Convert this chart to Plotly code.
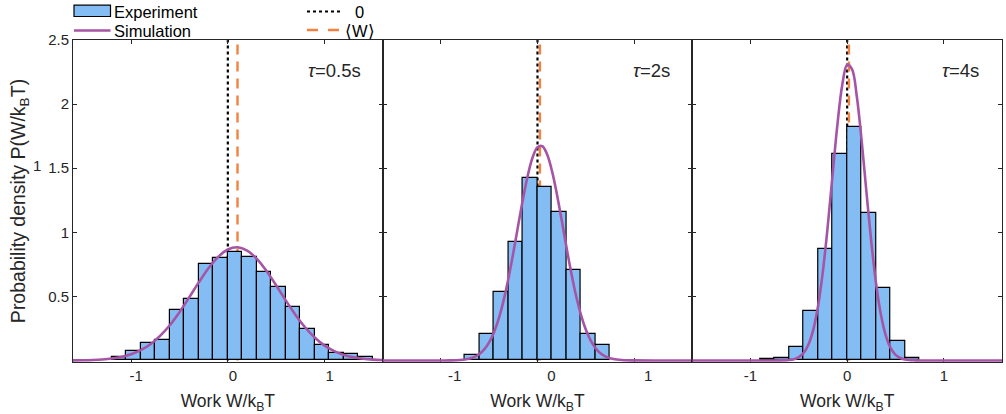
import plotly.graph_objects as go
from plotly.subplots import make_subplots

# ---------------- data ----------------
bin_width = 0.15

p1_bin_start = -1.2
p1_heights = [0.028, 0.075, 0.140, 0.158, 0.394, 0.478, 0.749, 0.797, 0.845,
              0.809, 0.690, 0.572, 0.417, 0.245, 0.117, 0.058, 0.054, 0.025]

p2_bin_start = -0.75
p2_heights = [0.041, 0.207, 0.536, 0.922, 1.420, 1.350, 1.156, 0.702, 0.207, 0.121]

p3_bin_start = -0.9
p3_heights = [0.008, 0.018, 0.103, 0.383, 0.866, 1.610, 1.825, 1.150, 0.562, 0.148, 0.020]

p1_sim_x = [-1.6, -1.5, -1.4, -1.3, -1.2, -1.1, -1.0, -0.9, -0.8, -0.7, -0.6, -0.5,
            -0.4, -0.3, -0.2, -0.1, 0.0, 0.1, 0.2, 0.3, 0.4, 0.5, 0.6, 0.7, 0.8,
            0.9, 1.0, 1.1, 1.2, 1.3, 1.4, 1.5, 1.6]
p1_sim_y = [0.0008, 0.0018, 0.0039, 0.0078, 0.0150, 0.0276, 0.0482, 0.0802, 0.127,
            0.192, 0.275, 0.377, 0.491, 0.609, 0.719, 0.808, 0.866, 0.883, 0.857,
            0.793, 0.698, 0.585, 0.467, 0.355, 0.257, 0.177, 0.116, 0.073, 0.043,
            0.0245, 0.0132, 0.0068, 0.0033]

p2_sim_x = [-1.6, -1.2, -1.0, -0.9, -0.8, -0.75, -0.7, -0.65, -0.6, -0.55, -0.5,
            -0.45, -0.4, -0.35, -0.3, -0.25, -0.2, -0.15, -0.1, -0.05, 0.0, 0.05,
            0.1, 0.15, 0.2, 0.25, 0.3, 0.35, 0.4, 0.45, 0.5, 0.55, 0.6, 0.65, 0.7,
            0.75, 0.8, 0.9, 1.0, 1.2, 1.6]
p2_sim_y = [0.0, 0.0, 0.0001, 0.0008, 0.0038, 0.0078, 0.0152, 0.0283, 0.0505,
            0.0861, 0.141, 0.219, 0.328, 0.469, 0.641, 0.840, 1.052, 1.260, 1.445,
            1.585, 1.664, 1.671, 1.606, 1.477, 1.299, 1.094, 0.881, 0.679, 0.501,
            0.354, 0.239, 0.154, 0.095, 0.056, 0.032, 0.017, 0.009, 0.0021, 0.0004,
            0.0, 0.0]

p3_sim_x = [-1.6, -1.0, -0.8, -0.7, -0.6, -0.55, -0.5, -0.45, -0.4, -0.35, -0.3,
            -0.25, -0.2, -0.15, -0.1, -0.05, 0.0, 0.05, 0.1, 0.15, 0.2, 0.25, 0.3,
            0.35, 0.4, 0.45, 0.5, 0.55, 0.6, 0.7, 0.8, 1.0, 1.6]
p3_sim_y = [0.0, 0.0, 0.0, 0.0004, 0.0038, 0.0103, 0.0258, 0.0591, 0.125, 0.241,
            0.429, 0.701, 1.054, 1.455, 1.846, 2.153, 2.307, 2.272, 2.057, 1.711,
            1.308, 0.919, 0.593, 0.352, 0.192, 0.096, 0.044, 0.019, 0.0073, 0.0009,
            0.0, 0.0, 0.0]

zero_x = [0.0, 0.0, 0.0]
mean_work = [0.10, 0.025, 0.018]
tau_labels = ["<i>τ</i>=0.5s", "<i>τ</i>=2s", "<i>τ</i>=4s"]

x_ticks = [-1, 0, 1]
x_tick_text = ["-1", "0", "1"]
y_ticks = [0.5, 1, 1.5, 2, 2.5]
y_tick_text = ["0.5", "1", "1.5", "2", "2.5"]

# ---------------- style ----------------
FONT = "Liberation Sans, Arial, Helvetica, sans-serif"
AX = "#262626"
BLUE = "#84BDF4"
PURPLE = "#A655A6"
ORANGE = "#F3813F"

W, H = 1006, 414
ML, MR, MT, MB = 73, 4, 40, 52

fig = make_subplots(rows=1, cols=3, horizontal_spacing=0, shared_yaxes=False)

panels = [
    (p1_bin_start, p1_heights, p1_sim_x, p1_sim_y),
    (p2_bin_start, p2_heights, p2_sim_x, p2_sim_y),
    (p3_bin_start, p3_heights, p3_sim_x, p3_sim_y),
]

for i, (b0, hts, sx, sy) in enumerate(panels):
    col = i + 1
    centers = [b0 + bin_width * (k + 0.5) for k in range(len(hts))]
    fig.add_trace(go.Bar(x=centers, y=hts, width=bin_width,
                         marker=dict(color=BLUE, line=dict(color="black", width=1.2)),
                         name="Experiment", showlegend=False), row=1, col=col)
    fig.add_trace(go.Scatter(x=sx, y=sy, mode="lines", line_shape="spline",
                             line=dict(color=PURPLE, width=2.6),
                             name="Simulation", showlegend=False), row=1, col=col)
    xr = "x" if col == 1 else f"x{col}"
    yr = "y" if col == 1 else f"y{col}"
    fig.add_shape(type="line", xref=xr, yref=yr, x0=zero_x[i], x1=zero_x[i],
                  y0=0, y1=2.5, layer="below",
                  line=dict(color="black", width=2.2, dash="dot"))
    fig.add_shape(type="line", xref=xr, yref=yr, x0=mean_work[i], x1=mean_work[i],
                  y0=0, y1=2.5, layer="below",
                  line=dict(color=ORANGE, width=2.4, dash="10px,7px"))
    fig.add_annotation(text=tau_labels[i], xref=f"{xr} domain", yref=f"{yr} domain",
                       x=[0.752, 0.803, 0.801][i], y=0.905, xanchor="left",
                       yanchor="middle", showarrow=False,
                       font=dict(family=FONT, size=18.5, color=AX))

shifts = [5, 14, 0]
for i in range(3):
    fig.update_xaxes(row=1, col=i + 1, range=[-1.6, 1.6], tickvals=x_ticks,
                     ticktext=x_tick_text, ticks="inside", ticklen=4, tickwidth=1,
                     tickcolor=AX, showline=True, linecolor=AX, linewidth=1,
                     mirror="ticks", layer="below traces", showgrid=False,
                     zeroline=False, ticklabelshift=shifts[i],
                     tickfont=dict(family=FONT, size=15, color=AX),
                     title=dict(text="Work W/k<sub>B</sub>T", standoff=12,
                                font=dict(family=FONT, size=17.5, color=AX)))
    fig.update_yaxes(row=1, col=i + 1, range=[-0.012, 2.5], tickvals=y_ticks,
                     ticktext=y_tick_text, ticks="inside", ticklen=4, tickwidth=1,
                     tickcolor=AX, showline=True, linecolor=AX, linewidth=1,
                     mirror="ticks", layer="below traces", showgrid=False,
                     zeroline=False, showticklabels=(i == 0),
                     tickfont=dict(family=FONT, size=15, color=AX))

fig.update_yaxes(row=1, col=1,
                 title=dict(text="Probability density P(W/k<sub>B</sub>T)", standoff=17,
                            font=dict(family=FONT, size=19.5, color=AX)))

# ---------------- manual legend (MATLAB style, two columns) ----------------
PW = W - ML - MR
PH = H - MT - MB


def pxx(x):
    return (x - ML) / PW


def pxy(y):
    return (H - MB - y) / PH


fig.add_shape(type="rect", xref="paper", yref="paper",
              x0=pxx(74), x1=pxx(110.5), y0=pxy(16.5), y1=pxy(5.2),
              fillcolor=BLUE, line=dict(color="black", width=1.2))
fig.add_shape(type="line", xref="paper", yref="paper",
              x0=pxx(74), x1=pxx(110.5), y0=pxy(30.5), y1=pxy(30.5),
              line=dict(color=PURPLE, width=2.6))
fig.add_shape(type="line", xref="paper", yref="paper",
              x0=pxx(307), x1=pxx(342), y0=pxy(11.5), y1=pxy(11.5),
              line=dict(color="black", width=2.2, dash="dot"))
fig.add_shape(type="line", xref="paper", yref="paper",
              x0=pxx(307), x1=pxx(341), y0=pxy(30), y1=pxy(30),
              line=dict(color=ORANGE, width=2.4, dash="11px,10px"))

legend_texts = [("Experiment", 112, 11.5, "left"), ("Simulation", 112, 30.5, "left"),
                ("0", 359, 11.5, "center"), ("⟨W⟩", 360, 30.5, "center")]
for txt, x, y, anc in legend_texts:
    fig.add_annotation(text=txt, xref="paper", yref="paper", x=pxx(x), y=pxy(y),
                       xanchor=anc, yanchor="middle", showarrow=False,
                       font=dict(family=FONT, size=16.5, color="black"))

# stray "1" next to the y tick labels in the original
fig.add_annotation(text="1", xref="paper", yref="paper", x=pxx(37), y=pxy(165),
                   xanchor="center", yanchor="middle", showarrow=False,
                   font=dict(family=FONT, size=15, color=AX))

fig.update_layout(width=W, height=H, margin=dict(l=ML, r=MR, t=MT, b=MB),
                  paper_bgcolor="white", plot_bgcolor="white", showlegend=False,
                  bargap=0, font=dict(family=FONT, color=AX))

fig.write_html("out.html")
